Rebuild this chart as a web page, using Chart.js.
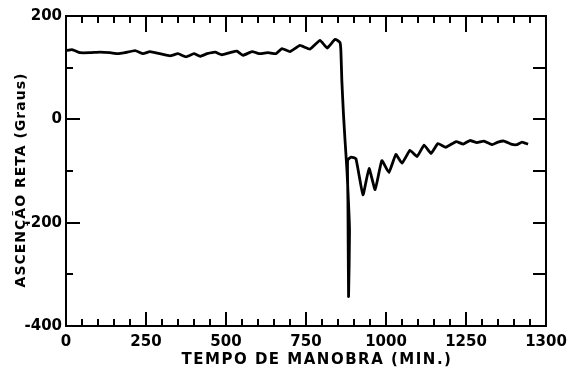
<!DOCTYPE html>
<html>
<head>
<meta charset="utf-8">
<script src="https://cdn.jsdelivr.net/npm/chart.js@4"></script>
<style>
html,body{margin:0;padding:0;background:#fff;}
#wrap{width:585px;height:371px;position:relative;}
</style>
</head>
<body>
<div id="wrap"><canvas id="c" width="585" height="371"></canvas></div>
<script>
// Data (time in minutes, right ascension in degrees)
const timeMin = [0,19,44,75,106,137,162,184,216,241,262,294,325,350,375,400,419,441,466,487,512,534,553,581,606,631,656,675,700,731,762,794,816,841,856,859,862,867,872,878,886,883,881,880,891,906,928,947,966,987,1009,1031,1050,1075,1097,1119,1141,1162,1187,1219,1241,1262,1284,1306,1331,1350,1369,1391,1409,1425,1444];
const raDeg   = [133,135,129,129,130,129,127,129,133,127,131,127,123,127,121,127,122,127,130,125,129,132,124,131,127,129,127,137,131,143,136,153,138,155,149,133,75,11,-41,-99,-215,-343,-157,-79,-73,-76,-146,-95,-136,-80,-103,-68,-85,-60,-72,-50,-66,-47,-54,-43,-48,-41,-45,-42,-49,-44,-42,-48,-49,-44,-48];

const xTickValues = [0,250,500,750,1000,1250,1500];
const xTickLabels = ['0','250','500','750','1000','1250','1300'];
const yTickValues = [200,0,-200,-400];
const yTickLabels = ['200','0','-200','-400'];
const xTitle = 'TEMPO DE MANOBRA (MIN.)';
const yTitle = 'ASCENÇÃO RETA (Graus)';

const points = timeMin.map((t,i)=>({x:t,y:raDeg[i]}));
const FONT = 'DejaVu Sans';

const frameTicks = {
  id:'frameTicks',
  afterDraw(chart){
    const ctx = chart.ctx;
    const a = chart.chartArea;
    const xs = chart.scales.x, ys = chart.scales.y;
    ctx.save();
    ctx.globalAlpha=1;
    ctx.setLineDash([]);
    ctx.strokeStyle='#000';
    ctx.fillStyle='#000';
    ctx.lineWidth=2;
    ctx.lineCap='butt';
    ctx.beginPath();
    for(let k=1; k<30; k++){
      const v = k*50;
      const px = Math.round(xs.getPixelForValue(v));
      const major = (k%5===0);
      ctx.moveTo(px, a.bottom); ctx.lineTo(px, a.bottom-(major?14:7));
      ctx.moveTo(px, a.top); ctx.lineTo(px, a.top+(major?16:7));
    }
    for(let v=-300; v<200; v+=100){
      const py = Math.round(ys.getPixelForValue(v));
      const major = (v%200===0);
      ctx.moveTo(a.left,py); ctx.lineTo(a.left+(major?14:7),py);
      ctx.moveTo(a.right,py); ctx.lineTo(a.right-13,py);
    }
    ctx.stroke();
    ctx.strokeRect(a.left,a.top,a.right-a.left,a.bottom-a.top);
    ctx.textAlign='center';
    ctx.textBaseline='middle';
    ctx.font='bold 15px "'+FONT+'"';
    ctx.letterSpacing='1.5px';
    ctx.fillText(xTitle,317,360);
    ctx.translate(21,180);
    ctx.rotate(-Math.PI/2);
    ctx.font='bold 14px "'+FONT+'"';
    ctx.letterSpacing='1px';
    ctx.fillText(yTitle,0,0);
    ctx.restore();
  }
};

new Chart(document.getElementById('c'),{
  type:'line',
  data:{datasets:[{
    data:points,
    borderColor:'#000',
    borderWidth:2.8,
    pointRadius:0,
    tension:0.12,
    fill:false
  }]},
  options:{
    responsive:false,
    animation:false,
    layout:{padding:{top:16,right:39,left:0,bottom:0}},
    plugins:{legend:{display:false},tooltip:{enabled:false}},
    scales:{
      x:{
        type:'linear',min:0,max:1500,
        afterBuildTicks(s){ s.ticks = xTickValues.map(v=>({value:v})); },
        afterFit(s){ s.height=45; },
        grid:{display:false,drawTicks:false},
        border:{display:false},
        ticks:{autoSkip:false,maxRotation:0,padding:7,color:'#000',
          font:{family:FONT,size:15,weight:'bold'},
          callback(v){ const i=xTickValues.indexOf(v); return i>=0?xTickLabels[i]:''; }}
      },
      y:{
        type:'linear',min:-400,max:200,
        afterBuildTicks(s){ s.ticks = yTickValues.map(v=>({value:v})); },
        afterFit(s){ s.width=66; },
        grid:{display:false,drawTicks:false},
        border:{display:false},
        ticks:{autoSkip:false,padding:4,color:'#000',
          font:{family:FONT,size:15,weight:'bold'},
          callback(v){ const i=yTickValues.indexOf(v); return i>=0?yTickLabels[i]:''; }}
      }
    }
  },
  plugins:[frameTicks]
});
</script>
</body>
</html>
